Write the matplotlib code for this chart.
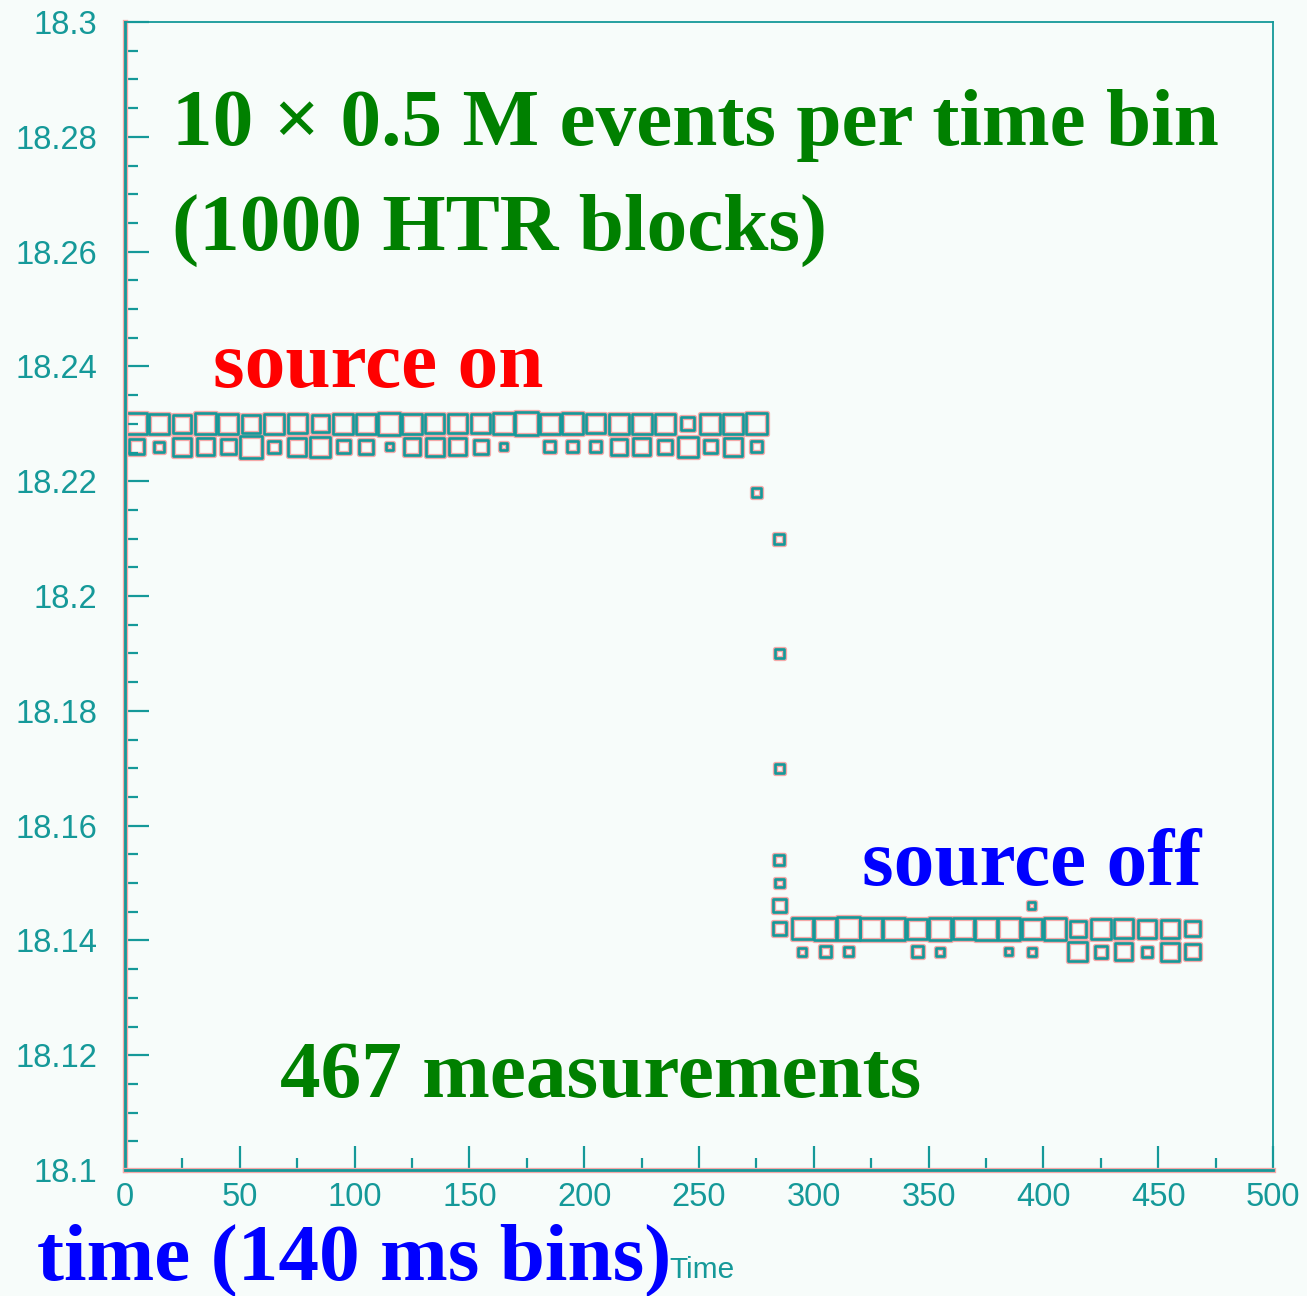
import numpy as np
import matplotlib
matplotlib.use("Agg")
import matplotlib.pyplot as plt
import matplotlib.patheffects as pe
from matplotlib.patches import Rectangle
from matplotlib.collections import PatchCollection
from matplotlib.ticker import MultipleLocator, FuncFormatter

# histogram binning: 50 time bins (0-500), 50 value bins (18.1-18.3)
bin_dx = 10.0
bin_dy = 0.004
max_count = 23.0

# source on: time bins 0..27, two value rows
time_on = np.arange(5, 280, 10)
row_on_upper = 18.230
row_on_lower = 18.226
counts_on_upper = [21, 20, 18, 21, 20, 18, 20, 19, 17, 20, 20, 22, 20, 19,
                   19, 19, 21, 23, 20, 21, 19, 20, 20, 20, 13, 20, 20, 21]
counts_on_lower = [15, 10, 18, 17, 15, 22, 12, 18, 20, 13, 14, 7, 17, 18,
                   17, 14, 7, 0, 11, 11, 11, 16, 17, 14, 20, 13, 18, 11]

# transition bins
trans_time = [275, 285, 285, 285, 285, 285, 285, 285, 395]
trans_value = [18.218, 18.210, 18.190, 18.170, 18.154, 18.150, 18.146, 18.142, 18.146]
trans_count = [9, 10, 9, 9, 10, 9, 13, 13, 7]

# source off: time bins 29..46
time_off = np.arange(295, 470, 10)
row_off_upper = 18.142
row_off_lower = 18.138
counts_off_upper = [21, 22, 23, 22, 22, 20, 22, 21, 22, 22, 20, 22, 16, 20,
                    19, 18, 18, 15]
counts_off_lower = [8, 11, 9, 0, 0, 11, 8, 0, 0, 7, 8, 0, 19, 12, 17, 10,
                    18, 15]

x_ticks = [0, 50, 100, 150, 200, 250, 300, 350, 400, 450, 500]
y_ticks = [18.1, 18.12, 18.14, 18.16, 18.18, 18.2, 18.22, 18.24, 18.26, 18.28, 18.3]

teal = "#159999"
halo = "#f5a8a8"
bg = "#f7fcfa"

W, H = 1307, 1296
fig = plt.figure(figsize=(W / 100, H / 100), dpi=100, facecolor=bg)
ax = fig.add_axes([125 / W, 1 - 1170 / H, 1148 / W, 1148 / H], facecolor=bg)
ax.set_xlim(0, 500)
ax.set_ylim(18.1, 18.3)

glow = [pe.Stroke(linewidth=3.8, foreground=halo), pe.Normal()]

# collect all bins as (time, value, count)
cells = []
for t, cu, cl in zip(time_on, counts_on_upper, counts_on_lower):
    cells.append((t, row_on_upper, cu))
    cells.append((t, row_on_lower, cl))
for t, v, c in zip(trans_time, trans_value, trans_count):
    cells.append((t, v, c))
for t, cu, cl in zip(time_off, counts_off_upper, counts_off_lower):
    cells.append((t, row_off_upper, cu))
    cells.append((t, row_off_lower, cl))

boxes = []
for t, v, c in cells:
    if c <= 0:
        continue
    w = bin_dx * c / max_count
    h = bin_dy * c / max_count
    boxes.append(Rectangle((t - w / 2, v - h / 2), w, h))

pc = PatchCollection(boxes, facecolor="none", edgecolor=teal, linewidth=1.9)
pc.set_path_effects(glow)
ax.add_collection(pc)

# ROOT-like axes: ticks inside, teal
ax.set_xticks(x_ticks)
ax.set_yticks(y_ticks)
ax.xaxis.set_minor_locator(MultipleLocator(25))
ax.yaxis.set_minor_locator(MultipleLocator(0.005))
ax.yaxis.set_major_formatter(FuncFormatter(lambda v, p: "%g" % round(v, 3)))
ax.tick_params(which="both", direction="in", colors=teal, top=False, right=False)
ax.tick_params(which="major", length=17, width=1.6)
ax.tick_params(which="minor", length=9, width=1.6)
ax.tick_params(axis="y", pad=20, labelsize=23.5)
ax.tick_params(axis="x", pad=9, labelsize=23.5)
for lab in ax.get_xticklabels() + ax.get_yticklabels():
    lab.set_fontfamily("Liberation Sans")
    lab.set_color(teal)

for side in ["left", "bottom"]:
    ax.spines[side].set_color(teal)
    ax.spines[side].set_linewidth(2.0)
    ax.spines[side].set_path_effects(glow)
for side in ["top", "right"]:
    ax.spines[side].set_color(teal)
    ax.spines[side].set_linewidth(1.3)

serif = dict(family="Liberation Serif", weight="bold", fontsize=58.5)


def label(x, y, s, color):
    fig.text(x / W, 1 - y / H, s, color=color, ha="left", va="baseline", **serif)


label(172, 145, "10 \u00d7 0.5 M events per time bin", "#008000")
label(172, 250, "(1000 HTR blocks)", "#008000")
label(213, 387, "source on", "#ff0000")
label(862, 885, "source off", "#0000ff")
label(280, 1097, "467 measurements", "#008000")
label(37, 1280, "time (140 ms bins)", "#0000ff")

fig.text(669 / W, 1 - 1278 / H, "Time", color=teal, fontsize=21.5,
         family="Liberation Sans", ha="left", va="baseline")

fig.savefig("out.png", dpi=100, facecolor=bg)
